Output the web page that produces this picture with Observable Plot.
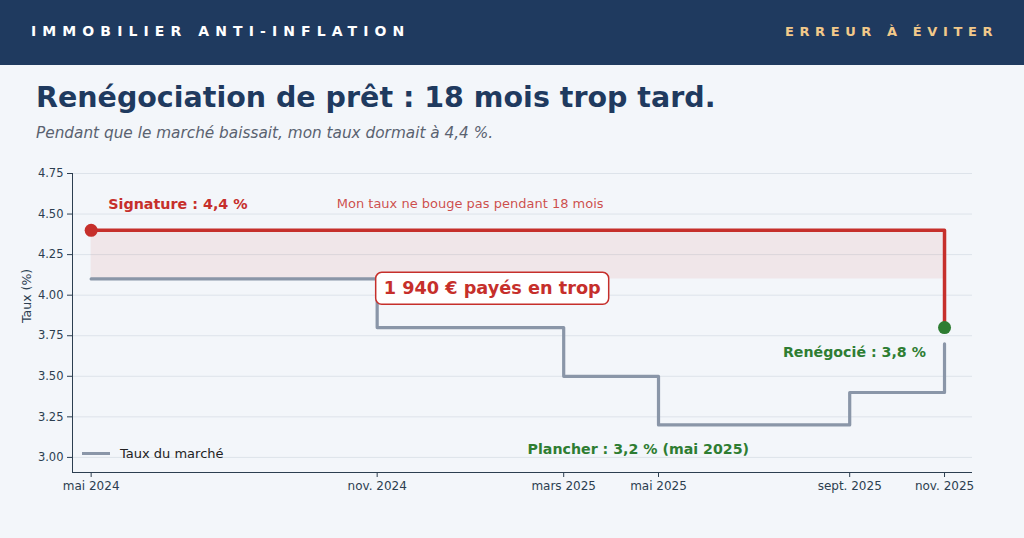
<!DOCTYPE html>
<html><head><meta charset="utf-8">
<script src="https://cdn.jsdelivr.net/npm/d3@7"></script>
<script src="https://cdn.jsdelivr.net/npm/@observablehq/plot@0.6"></script>
<style>
body{margin:0;width:1024px;height:538px;background:#f3f6fa;font-family:"DejaVu Sans",sans-serif;position:relative;overflow:hidden}
#hdr{position:absolute;left:0;top:0;width:1024px;height:65px;background:#1f3a5f}
#hl{position:absolute;left:31px;top:23px;color:#fff;font-weight:bold;font-size:14px;letter-spacing:6.1px;white-space:nowrap}
#hr{position:absolute;left:785px;top:23.5px;color:#f2c98a;font-weight:bold;font-size:13px;letter-spacing:5.6px;white-space:nowrap}
#title{position:absolute;left:36px;top:81px;font-size:28.5px;font-weight:bold;color:#1f3a5f;white-space:nowrap}
#sub{position:absolute;left:36px;top:124px;font-size:15.3px;font-style:italic;color:#5a6270;white-space:nowrap}
#chart{position:absolute;left:0;top:160px}
#legend{position:absolute;left:82px;top:446px;font-size:13px;color:#222;display:flex;align-items:center}
#legend span.sw{display:inline-block;width:28px;height:3px;background:#8a96a8;margin-right:10px}
</style></head>
<body>
<div id="hdr"><div id="hl">IMMOBILIER ANTI-INFLATION</div><div id="hr">ERREUR À ÉVITER</div></div>
<div id="title">Renégociation de prêt : 18 mois trop tard.</div>
<div id="sub">Pendant que le marché baissait, mon taux dormait à 4,4 %.</div>
<div id="chart"></div>
<div id="legend"><span class="sw"></span>Taux du marché</div>
<script>
// ---- data ----
const marketDates = ["2024-05-01","2024-11-01","2025-03-01","2025-05-01","2025-09-01","2025-11-01"];
const marketRates = [4.10, 3.80, 3.50, 3.20, 3.40, 3.70];
const myDates = ["2024-05-01","2025-11-01","2025-11-01"];
const myRates = [4.40, 4.40, 3.80];
const signPoint = {date:"2024-05-01", rate:4.40};
const renegPoint = {date:"2025-11-01", rate:3.80};
const bandDates = ["2024-05-01","2025-11-01"];
const bandRates = [4.10, 4.40];
const xTickDates = ["2024-05-01","2024-11-01","2025-03-01","2025-05-01","2025-09-01","2025-11-01"];
const xTickLabels = ["mai 2024","nov. 2024","mars 2025","mai 2025","sept. 2025","nov. 2025"];
const yTicks = [3.00,3.25,3.50,3.75,4.00,4.25,4.50,4.75];
const xDomain = ["2024-04-19","2025-11-19"];
const yDomain = [2.907, 4.75];
const annotations = [
  {date:"2024-05-12", rate:4.56, text:"Signature : 4,4 %", kind:"sig"},
  {date:"2024-10-06", rate:4.56, text:"Mon taux ne bouge pas pendant 18 mois", kind:"note"},
  {date:"2025-01-14", rate:4.04, text:"1 940 € payés en trop", kind:"box"},
  {date:"2025-10-20", rate:3.65, text:"Renégocié : 3,8 %", kind:"reneg"},
  {date:"2025-04-18", rate:3.05, text:"Plancher : 3,2 % (mai 2025)", kind:"floor"}
];

const D = s => new Date(s);
const market = marketDates.map((d,i)=>({date:D(d), rate:marketRates[i]}));
const mine = myDates.map((d,i)=>({date:D(d), rate:myRates[i]}));
const band = [{x1:D(bandDates[0]), x2:D(bandDates[1]), y1:bandRates[0], y2:bandRates[1]}];
const ann = annotations.map(a=>({...a, date:D(a.date)}));
const RED="#c62f2b", GREEN="#2e7d32", GREY="#8a96a8", INK="#2c3e50";

const plot = Plot.plot({
  width:1024, height:340,
  marginLeft:72, marginRight:52, marginTop:13, marginBottom:28,
  style:{background:"transparent", fontFamily:"DejaVu Sans", fontSize:"11.5px", color:INK},
  x:{type:"utc", domain:xDomain.map(D)},
  y:{domain:yDomain},
  marks:[
    Plot.gridY(yTicks, {stroke:"#dde3ea", strokeOpacity:1, strokeWidth:1}),
    Plot.rectY(band, {x1:"x1", x2:"x2", y1:"y1", y2:"y2", fill:RED, fillOpacity:0.08}),
    Plot.axisY({ticks:yTicks, tickFormat:d=>d.toFixed(2), tickSize:5, label:null, stroke:INK, fill:INK, fontSize:11.5}),
    Plot.axisX({ticks:xTickDates.map(D), tickFormat:(d,i)=>xTickLabels[i], tickSize:5, label:null, stroke:INK, fill:INK, fontSize:12}),
    Plot.ruleX([D(xDomain[0])], {y1:yDomain[0], y2:yDomain[1], stroke:INK, strokeWidth:1}),
    Plot.ruleY([yDomain[0]], {stroke:INK, strokeWidth:1}),
    Plot.text(["Taux (%)"], {frameAnchor:"left", rotate:-90, dx:-46, dy:0, fontSize:12.5, fill:INK}),
    Plot.line(market, {x:"date", y:"rate", curve:"step-after", stroke:GREY, strokeWidth:3.2}),
    Plot.line(mine, {x:"date", y:"rate", curve:"step-after", stroke:RED, strokeWidth:3.5}),
    Plot.dot([signPoint], {x:d=>D(d.date), y:"rate", r:6.5, fill:RED, stroke:null}),
    Plot.dot([renegPoint], {x:d=>D(d.date), y:"rate", r:6.5, fill:GREEN, stroke:null}),
    Plot.text(ann.filter(a=>a.kind==="sig"), {x:"date", y:"rate", text:"text", textAnchor:"start", fill:RED, fontWeight:"bold", fontSize:14.3}),
    Plot.text(ann.filter(a=>a.kind==="note"), {x:"date", y:"rate", text:"text", textAnchor:"start", fill:RED, fillOpacity:0.85, fontSize:13}),
    Plot.text(ann.filter(a=>a.kind==="box"), {x:"date", y:"rate", text:"text", fill:RED, fontWeight:"bold", fontSize:17.7}),
    Plot.text(ann.filter(a=>a.kind==="reneg"), {x:"date", y:"rate", text:"text", textAnchor:"end", fill:GREEN, fontWeight:"bold", fontSize:14.2}),
    Plot.text(ann.filter(a=>a.kind==="floor"), {x:"date", y:"rate", text:"text", fill:GREEN, fontWeight:"bold", fontSize:14.2})
  ]
});
document.getElementById("chart").appendChild(plot);

// rounded box behind the "payés en trop" label
const boxText = ann.find(a=>a.kind==="box").text;
plot.querySelectorAll("text").forEach(t=>{
  if (t.textContent === boxText) {
    const bb = t.getBBox();
    const g = t.parentNode;
    const r = document.createElementNS("http://www.w3.org/2000/svg","rect");
    r.setAttribute("x", bb.x-8); r.setAttribute("y", bb.y-6);
    r.setAttribute("width", bb.width+16); r.setAttribute("height", bb.height+12);
    r.setAttribute("rx", 6); r.setAttribute("fill", "#fff");
    r.setAttribute("stroke", RED); r.setAttribute("stroke-width", 1.5);
    if (t.getAttribute("transform")) r.setAttribute("transform", t.getAttribute("transform"));
    g.insertBefore(r, t);
  }
});
</script>
</body></html>
